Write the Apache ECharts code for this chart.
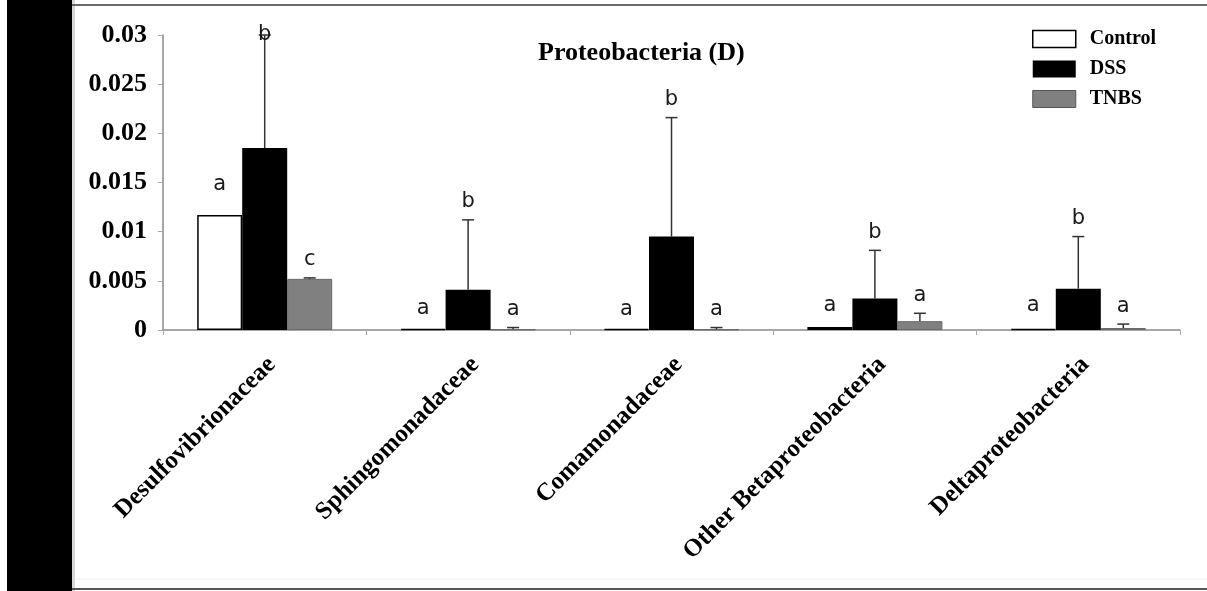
<!DOCTYPE html>
<html>
<head>
<meta charset="utf-8">
<script src="https://cdn.jsdelivr.net/npm/echarts@6/dist/echarts.min.js"></script>
<style>
html,body{margin:0;padding:0;background:#fff;}
#chart{width:1207px;height:591px;}
</style>
</head>
<body>
<div id="chart"></div>
<script>
// ---- data ----
const categories = ['Desulfovibrionaceae','Sphingomonadaceae','Comamonadaceae','Other Betaproteobacteria','Deltaproteobacteria'];
const seriesNames = ['Control','DSS','TNBS'];
const controlValues = [0.0117, 0.0001, 0.0001, 0.0003, 0.0001];
const controlErrors = [0.0013, 0.0003, 0.0001, 0.0004, 0.0006];
const dssValues     = [0.0185, 0.0041, 0.0095, 0.0032, 0.0042];
const dssErrors     = [0.0115, 0.0071, 0.0121, 0.0049, 0.0053];
const tnbsValues    = [0.0052, 0.00005, 0.00005, 0.0009, 0.0002];
const tnbsErrors    = [0.0001, 0.0002, 0.0002, 0.0008, 0.0004];
const controlLetters = ['a','a','a','a','a'];
const dssLetters     = ['b','b','b','b','b'];
const tnbsLetters    = ['c','a','a','a','a'];
const yTicks = [0, 0.005, 0.01, 0.015, 0.02, 0.025, 0.03];

// ---- style ----
const BAR_W = 45;
const SERIF = '"Liberation Serif","Times New Roman",serif';
const SANS = '"DejaVu Sans",Verdana,sans-serif';

function errorSeries(k, values, errors, letters, lineColor) {
  return {
    type: 'custom',
    name: seriesNames[k] + ' error',
    z: 5,
    clip: false,
    silent: true,
    data: categories.map((c, i) => [i, values[i], errors[i]]),
    renderItem: function (params, api) {
      const i = api.value(0), v = api.value(1), e = api.value(2);
      const base = api.coord([i, v]);
      const top = api.coord([i, v + e]);
      const x = base[0] + (k - 1) * BAR_W;
      const cs = params.coordSys;
      const ly = Math.max(top[1] - 18, cs.y);
      return {
        type: 'group',
        children: [
          {type: 'line', shape: {x1: x, y1: base[1], x2: x, y2: top[1]}, style: {stroke: lineColor, lineWidth: 1.5}},
          {type: 'line', shape: {x1: x - 6, y1: top[1], x2: x + 6, y2: top[1]}, style: {stroke: lineColor, lineWidth: 1.5}},
          {type: 'text', x: x, y: ly, style: {text: letters[params.dataIndex], font: '21px ' + SANS, fill: '#1a1a1a', align: 'center', verticalAlign: 'middle'}}
        ]
      };
    }
  };
}

const chart = echarts.init(document.getElementById('chart'), null, {renderer: 'canvas'});
chart.setOption({
  backgroundColor: '#ffffff',
  animation: false,
  title: {
    text: 'Proteobacteria (D)',
    left: 533, top: 35,
    textStyle: {fontFamily: SERIF, fontWeight: 'bold', fontSize: 26, color: '#000'}
  },
  legend: {
    orient: 'vertical',
    left: 1032, top: 29, padding: 0,
    itemWidth: 43, itemHeight: 17, itemGap: 10,
    icon: 'rect',
    textStyle: {fontFamily: SERIF, fontWeight: 'bold', fontSize: 20, color: '#000', padding: [0, 0, 0, 9]},
    data: [
      {name: 'Control', itemStyle: {color: '#fff', borderColor: '#000', borderWidth: 1.5}},
      {name: 'DSS', itemStyle: {color: '#000'}},
      {name: 'TNBS', itemStyle: {color: '#808080', borderColor: '#555', borderWidth: 1}}
    ]
  },
  grid: {left: 163, right: 27, top: 35, bottom: 261, containLabel: false},
  xAxis: {
    type: 'category',
    data: categories,
    axisLine: {lineStyle: {color: '#8a8a8a', width: 1.5}},
    axisTick: {show: true, length: 5, lineStyle: {color: '#aaa'}},
    axisLabel: {rotate: 45, margin: 38, interval: 0, padding: [0, -10, 0, 0], fontFamily: SERIF, fontWeight: 'bold', fontSize: 25, color: '#000'}
  },
  yAxis: {
    type: 'value',
    min: 0, max: 0.03, interval: 0.005,
    splitLine: {show: false},
    axisLine: {show: true, lineStyle: {color: '#8a8a8a', width: 1.5}},
    axisTick: {show: true, length: 5, lineStyle: {color: '#aaa'}},
    axisLabel: {
      margin: 16, fontFamily: SERIF, fontWeight: 'bold', fontSize: 26, color: '#000',
      formatter: function (v) { const t = yTicks.find(y => Math.abs(y - v) < 1e-9); return String(t !== undefined ? t : v); }
    }
  },
  series: [
    {name: 'Control', type: 'bar', barWidth: BAR_W, barGap: '0%', data: controlValues,
     itemStyle: {color: '#fff', borderColor: '#000', borderWidth: 1.5}},
    {name: 'DSS', type: 'bar', barWidth: BAR_W, barGap: '0%', data: dssValues,
     itemStyle: {color: '#000'}},
    {name: 'TNBS', type: 'bar', barWidth: BAR_W, barGap: '0%', data: tnbsValues,
     itemStyle: {color: '#808080', borderColor: '#6a6a6a', borderWidth: 1}},
    errorSeries(0, controlValues, controlErrors, controlLetters, 'rgba(0,0,0,0)'),
    errorSeries(1, dssValues, dssErrors, dssLetters, '#333'),
    errorSeries(2, tnbsValues, tnbsErrors, tnbsLetters, '#333')
  ],
  graphic: [
    {type: 'rect', shape: {x: 7, y: 0, width: 65, height: 591}, style: {fill: '#000'}, z: 100},
    {type: 'rect', shape: {x: 72, y: 0, width: 3, height: 591}, style: {fill: '#d8d8d8'}, z: 100},
    {type: 'line', shape: {x1: 72, y1: 5, x2: 1207, y2: 5}, style: {stroke: '#6a6a6a', lineWidth: 2}, z: 100},
    {type: 'line', shape: {x1: 75, y1: 579, x2: 1207, y2: 579}, style: {stroke: '#f0f0f0', lineWidth: 1}, z: 100},
    {type: 'line', shape: {x1: 72, y1: 589, x2: 1207, y2: 589}, style: {stroke: '#555', lineWidth: 2}, z: 100}
  ]
});
</script>
</body>
</html>
